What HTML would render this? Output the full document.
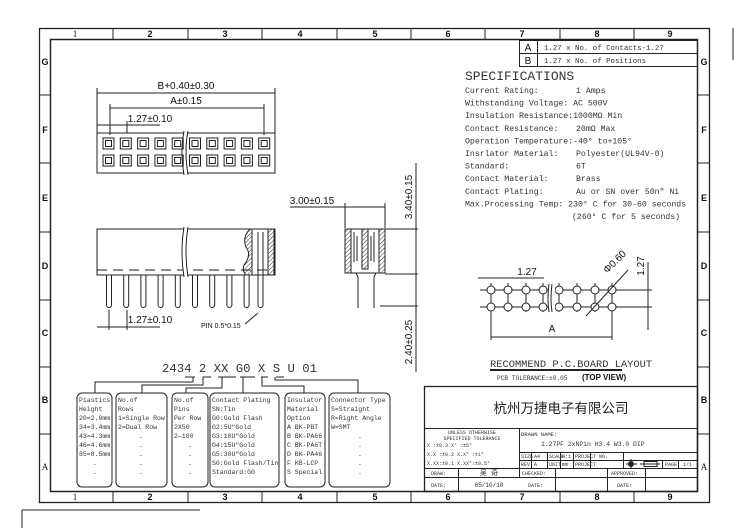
<!DOCTYPE html>
<html><head><meta charset="utf-8"><style>
body{margin:0;background:#fff;}
svg{display:block;}
.s{font-family:"Liberation Mono","Noto Sans CJK SC",monospace;fill:#333;}
.a{font-family:"Liberation Sans",sans-serif;fill:#111;}
</style></head><body>
<svg width="747" height="528" viewBox="0 0 747 528" xmlns="http://www.w3.org/2000/svg">
<defs><pattern id="h" width="3" height="3" patternUnits="userSpaceOnUse" patternTransform="rotate(45)"><line x1="0" y1="0" x2="0" y2="3" stroke="#333" stroke-width="1"/></pattern></defs>
<g fill="none" stroke="#222" stroke-width="1">
<rect x="39.5" y="28.5" width="670" height="474" stroke-width="1.3"/>
<rect x="50.5" y="39.5" width="647" height="452" stroke-width="1.5"/>
<line x1="733" y1="28" x2="733" y2="60"/>
<line x1="22" y1="510" x2="22" y2="528"/>
<line x1="22" y1="510" x2="200" y2="510"/>
<path d="M113 28V40M188 28V40M262 28V40M337 28V40M411 28V40M485 28V40M560 28V40M634 28V40
M113 491V503M188 491V503M262 491V503M337 491V503M411 491V503M485 491V503M560 491V503M634 491V503
M39 95H51M39 163H51M39 232H51M39 300H51M39 367H51M39 434H51
M697 95H710M697 163H710M697 232H710M697 300H710M697 367H710M697 434H710"/>
</g>
<g class="a" font-size="9" text-anchor="middle" font-weight="bold">
<text x="75" y="37" font-weight="normal" style="font-family:'Liberation Serif',serif">1</text><text x="150" y="37">2</text><text x="225" y="37">3</text><text x="300" y="37">4</text><text x="375" y="37">5</text><text x="448" y="37">6</text><text x="522" y="37">7</text><text x="597" y="37">8</text><text x="670" y="37">9</text>
<text x="75" y="500" font-weight="normal" style="font-family:'Liberation Serif',serif">1</text><text x="150" y="500">2</text><text x="225" y="500">3</text><text x="300" y="500">4</text><text x="375" y="500">5</text><text x="448" y="500">6</text><text x="522" y="500">7</text><text x="597" y="500">8</text><text x="670" y="500">9</text>
<text x="45" y="65">G</text><text x="45" y="133">F</text><text x="45" y="201">E</text><text x="45" y="269">D</text><text x="45" y="336">C</text><text x="45" y="403">B</text><text x="45" y="470" font-weight="normal" style="font-family:'Liberation Serif',serif">A</text>
<text x="704" y="65">G</text><text x="704" y="133">F</text><text x="704" y="201">E</text><text x="704" y="269">D</text><text x="704" y="336">C</text><text x="704" y="403">B</text><text x="704" y="470" font-weight="normal" style="font-family:'Liberation Serif',serif">A</text>
</g>
<g fill="none" stroke="#222"><rect x="519.5" y="40.5" width="178" height="26"/><line x1="519" y1="53.5" x2="698" y2="53.5"/><line x1="537.5" y1="40" x2="537.5" y2="67"/></g>
<text class="a" x="528" y="51" font-size="10" text-anchor="middle">A</text><text class="a" x="528" y="64" font-size="10" text-anchor="middle">B</text>
<text class="s" x="544" y="50" font-size="7.4">1.27 x No. of Contacts-1.27</text>
<text class="s" x="544" y="63" font-size="7.4">1.27 x No. of Positions</text>
<g class="s" font-size="8.2">
<text x="465" y="80" font-size="13">SPECIFICATIONS</text>
<text x="465" y="93">Current Rating:</text><text x="576" y="93">1 Amps</text>
<text x="465" y="105.6">Withstanding Voltage: AC  500V</text>
<text x="465" y="118.2">Insulation Resistance:1000MΩ   Min</text>
<text x="465" y="130.8">Contact Resistance:</text><text x="576" y="130.8">20mΩ  Max</text>
<text x="465" y="143.4">Operation Temperature:-40° to+105°</text>
<text x="465" y="156">Insrlator Material:</text><text x="576" y="156">Polyester(UL94V-0)</text>
<text x="465" y="168.6">Standard:</text><text x="576" y="168.6">6T</text>
<text x="465" y="181.2">Contact Material:</text><text x="576" y="181.2">Brass</text>
<text x="465" y="193.8">Contact Plating:</text><text x="576" y="193.8">Au or SN over 50n" Ni</text>
<text x="465" y="206.4">Max.Processing Temp: 230° C for 30-60 seconds</text>
<text x="572" y="219">(260° C for 5 seconds)</text>
</g>
<g fill="none" stroke="#222" stroke-width="1">
<rect x="97" y="133" width="178" height="40"/>
<path d="M110 135V104M127 133V121M264 135V104M97 133V88M275 133V88"/>
<path d="M97 93H275M110 108H264M97 125H160" />
<path d="M186 131q-4 20 0 44" stroke="#fff" stroke-width="4"/>
<path d="M184 131q-4 20 0 44M188 131q-4 20 0 44"/>
</g>
<g fill="none" stroke="#222">
<g id="sq"><rect x="103" y="138" width="11" height="11"/><rect x="105.5" y="140.5" width="6" height="6"/><rect x="103" y="155" width="11" height="11"/><rect x="105.5" y="157.5" width="6" height="6"/></g>
<use href="#sq" x="17.3"/><use href="#sq" x="34.6"/><use href="#sq" x="51.9"/><use href="#sq" x="69.2"/><use href="#sq" x="86.5"/><use href="#sq" x="103.8"/><use href="#sq" x="121.1"/><use href="#sq" x="138.4"/><use href="#sq" x="155.7"/>
</g>
<g class="a" font-size="10" text-anchor="middle">
<text x="186" y="89">B+0.40±0.30</text><text x="186" y="104">A±0.15</text><text x="150" y="122">1.27±0.10</text>
</g>
<g fill="none" stroke="#222">
<rect x="97" y="229" width="178" height="46"/>
<path d="M97 270H275" stroke-dasharray="10 6"/>
<path d="M186 227q-4 25 0 50" stroke="#fff" stroke-width="4"/>
<path d="M184 227q-4 25 0 50M188 227q-4 25 0 50"/>
<path d="M250 229q-8 8 -4 18q6 8 -2 18q-2 6 2 10h6V229Z" fill="url(#h)"/>
<rect x="268" y="229" width="6" height="46" fill="url(#h)"/>
<g id="pn"><path d="M106.5 275V305a2.5 2.5 0 0 0 5 0V275"/></g>
<use href="#pn" x="17.2"/><use href="#pn" x="34.4"/><use href="#pn" x="51.6"/><use href="#pn" x="68.8"/><use href="#pn" x="86"/><use href="#pn" x="103.2"/><use href="#pn" x="120.4"/><use href="#pn" x="137.6"/>
<path d="M258 232V305a2.5 2.5 0 0 0 5 0V232"/>
<path d="M109 310V330M127 310V330M97 327H160"/>
<path d="M245 324l13 -11"/>
</g>
<text class="a" x="150" y="323" font-size="10" text-anchor="middle">1.27±0.10</text>
<text class="a" x="201" y="328" font-size="7">PIN  0.5*0.15</text>
<g fill="none" stroke="#222">
<rect x="345" y="229" width="40" height="44"/>
<rect x="345" y="229" width="6" height="44" fill="url(#h)"/><rect x="379" y="229" width="6" height="44" fill="url(#h)"/><rect x="362" y="229" width="6" height="40" fill="url(#h)"/>
<path d="M354 232v30M374 232v30M357 236v25M371 236v25M351 273h5l2 4v31M381 273h-5l-2 4v31"/>
<path d="M345 228V203M385 228V203M290 207H385"/>
<path d="M385 229H418M385 274H418M380 306H418M416 163V372"/>
</g>
<text class="a" x="312" y="204" font-size="10" text-anchor="middle">3.00±0.15</text>
<text class="a" transform="translate(412,197) rotate(-90)" font-size="10" text-anchor="middle">3.40±0.15</text>
<text class="a" transform="translate(412,342) rotate(-90)" font-size="10" text-anchor="middle">2.40±0.25</text>
<g fill="none" stroke="#222">
<path d="M480 290H628M480 307H628M491 283V312M508 283V312M526 283V312M543 283V312M559 283V312M577 283V312M595 283V312M612 283V312"/>
<g fill="#fff"><circle cx="491" cy="290" r="4"/><circle cx="508" cy="290" r="4"/><circle cx="526" cy="290" r="4"/><circle cx="543" cy="290" r="4"/><circle cx="559" cy="290" r="4"/><circle cx="577" cy="290" r="4"/><circle cx="595" cy="290" r="4"/><circle cx="612" cy="290" r="4"/>
<circle cx="491" cy="307" r="4"/><circle cx="508" cy="307" r="4"/><circle cx="526" cy="307" r="4"/><circle cx="543" cy="307" r="4"/><circle cx="559" cy="307" r="4"/><circle cx="577" cy="307" r="4"/><circle cx="595" cy="307" r="4"/><circle cx="612" cy="307" r="4"/></g>
<rect x="548" y="283" width="7" height="30" fill="#fff" stroke="none"/>
<path d="M549 284q-2 15 0 28M552 284q-2 15 0 28"/>
<path d="M478 278H544M491 312V340M612 312V340M491 337H612M586 316L628 270M648 262V330M620 290H652M620 307H652"/>
<path d="M490 370H622" stroke-width="2"/>
</g>
<text class="a" x="527" y="275" font-size="10" text-anchor="middle">1.27</text>
<text class="a" x="552" y="332" font-size="10" text-anchor="middle">A</text>
<text class="a" transform="translate(617,264) rotate(-45)" font-size="10" text-anchor="middle">Φ0.60</text>
<text class="a" transform="translate(644,266) rotate(-90)" font-size="10" text-anchor="middle">1.27</text>
<text class="s" x="490" y="367" font-size="10.4">RECOMMEND P.C.BOARD LAYOUT</text>
<text class="s" x="497" y="380" font-size="6.2">PCB TOLERANCE:±0.05</text>
<text class="a" x="582" y="380" font-size="8" font-weight="bold">(TOP VIEW)</text>
<text class="s" x="162" y="372" font-size="12.3">2434 2 XX G0 X S U 01</text>
<g fill="none" stroke="#222">
<path d="M185 377H195M203 377H211M218 377H236M240 377H255M261 377H268M276 377H284"/>
<path d="M193 377V382H95V393M203 377V385H142V393M222 377V388H186V393M243 377V393M262 377V386H304V393M275 377V380H358V393"/>
<rect x="77" y="393" width="35" height="94" rx="5"/>
<rect x="116" y="393" width="51" height="94" rx="5"/>
<rect x="172" y="393" width="36" height="94" rx="5"/>
<rect x="210" y="393" width="69" height="94" rx="5"/>
<rect x="285" y="393" width="40" height="94" rx="5"/>
<rect x="329" y="393" width="61" height="94" rx="5"/>
</g>
<g class="s" font-size="6.5">
<text x="79" y="402">Piastics</text><text x="79" y="411">Height</text><text x="79" y="420">20=2.0mm</text><text x="79" y="429">34=3.4mm</text><text x="79" y="438">43=4.3mm</text><text x="79" y="447">46=4.6mm</text><text x="79" y="456">85=8.5mm</text><text x="93" y="465">.</text><text x="93" y="474">.</text>
<text x="118" y="402">No.of</text><text x="118" y="411">Rows</text><text x="118" y="420">1=Single Row</text><text x="118" y="429">2=Dual Row</text><text x="139" y="438">.</text><text x="139" y="447">.</text><text x="139" y="456">.</text><text x="139" y="465">.</text><text x="139" y="474">.</text>
<text x="174" y="402">No.of</text><text x="174" y="411">Pins</text><text x="174" y="420">Per Row</text><text x="174" y="429">2X50</text><text x="174" y="438">2—100</text><text x="188" y="447">.</text><text x="188" y="456">.</text><text x="188" y="465">.</text><text x="188" y="474">.</text>
<text x="212" y="402">Contact Plating</text><text x="212" y="411">SN:Tin</text><text x="212" y="420">G0:Gold Flash</text><text x="212" y="429">G2:5U"Gold</text><text x="212" y="438">G3:10U"Gold</text><text x="212" y="447">G4:15U"Gold</text><text x="212" y="456">G5:30U"Gold</text><text x="212" y="465">S0:Gold Flash/Tin</text><text x="212" y="474">Standard:G0</text>
<text x="287" y="402">Insulator</text><text x="287" y="411">Material</text><text x="287" y="420">Option</text><text x="287" y="429">A BK-PBT</text><text x="287" y="438">B BK-PA66</text><text x="287" y="447">C BK-PA6T</text><text x="287" y="456">D BK-PA46</text><text x="287" y="465">F KB-LCP</text><text x="287" y="474">S Special</text>
<text x="331" y="402">Connector Type</text><text x="331" y="411">S=Straight</text><text x="331" y="420">R=Right Angle</text><text x="331" y="429">W=SMT</text><text x="358" y="438">.</text><text x="358" y="447">.</text><text x="358" y="456">.</text><text x="358" y="465">.</text><text x="358" y="474">.</text>
</g>
<g fill="none" stroke="#222">
<rect x="424.5" y="386.5" width="273" height="105" stroke-width="1.3"/>
<path d="M424 428.5H698M519.5 428V477M519 452.5H698M519 460.5H698M424 468.5H698M424 477.5H698M458.5 468V491M555.5 468V491M607.5 468V491M645.5 468V491"/>
<path d="M531.5 452V468M547.5 452V468M560.5 452V468M573.5 452V468M590.5 452V468M623.5 452V468M662.5 460V468M678.5 460V468"/>
<circle cx="631" cy="464" r="2.5" fill="#222"/><path d="M626 464H637M631 459V469M640 464H660M644 461.5H657V466.5H644Z"/>
</g>
<text x="561" y="413" font-size="13.5" text-anchor="middle" style="font-family:'Noto Sans CJK SC',sans-serif;fill:#222">杭州万捷电子有限公司</text>
<g class="s" font-size="5">
<text x="472" y="434" text-anchor="middle">UNLESS OTHERWISE</text><text x="472" y="440" text-anchor="middle">SPECIFIED TOLERANCE</text>
<text x="427" y="447">X   :±0.3  X°   :±5°</text>
<text x="427" y="456">X.X :±0.2  X.X° :±1°</text>
<text x="427" y="465">X.XX:±0.1  X.XX°:±0.5°</text>
<text x="521" y="436" font-size="5.5">DRAWN NAME:</text>
<text x="541" y="446" font-size="6.4">1.27PF  2xNPin  H3.4  W3.0  DIP</text>
<text x="521" y="458">SIZE</text><text x="534" y="458">A4</text><text x="549" y="458">SCALE</text><text x="562" y="458">N:1</text><text x="575" y="458">PROJECT NO.</text>
<text x="521" y="466">REV</text><text x="534" y="466">A</text><text x="549" y="466">UNIT</text><text x="562" y="466">mm</text><text x="575" y="466">PROJECT</text><text x="665" y="466">PAGE</text><text x="683" y="466">1/1</text>
<text x="431" y="475">DRAW:</text><text x="489" y="475" font-size="7" text-anchor="middle">吴  奇</text><text x="522" y="475">CHECKED:</text><text x="611" y="475">APPROVED:</text>
<text x="431" y="487">DATE:</text><text x="489" y="487" font-size="6" text-anchor="middle">05/10/10</text><text x="528" y="487">DATE:</text><text x="617" y="487">DATE:</text>
</g>
</svg>
</body></html>
